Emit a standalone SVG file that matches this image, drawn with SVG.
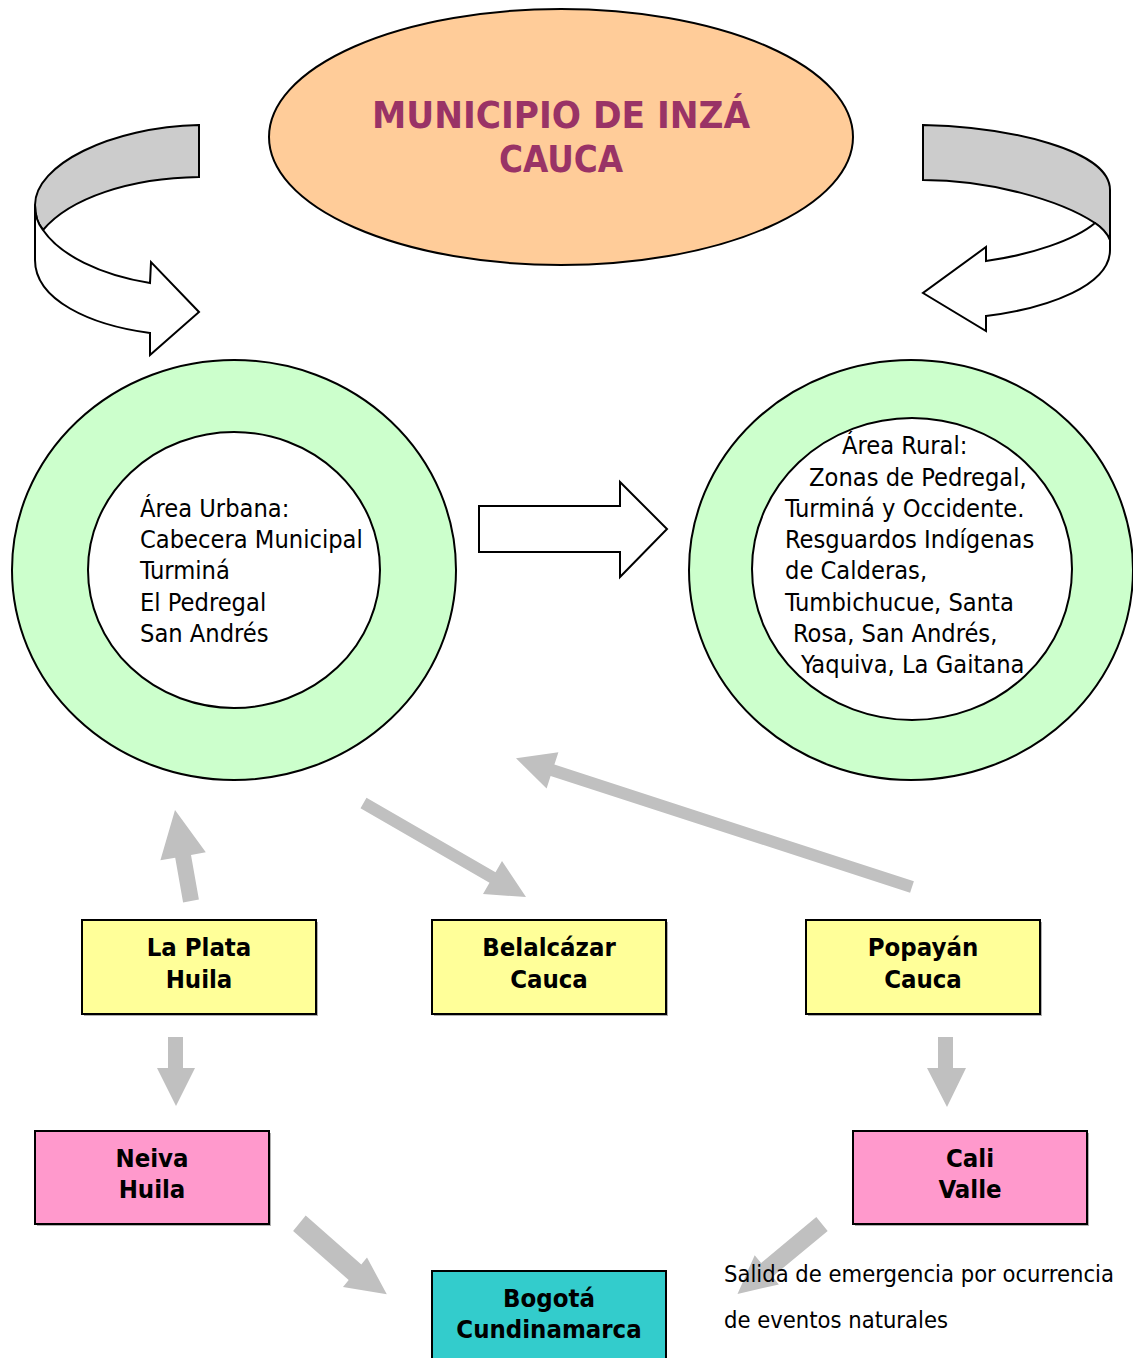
<svg xmlns="http://www.w3.org/2000/svg" width="1133" height="1358" viewBox="0 0 1133 1358">
<style>
.ol{stroke:#000;stroke-width:2;stroke-linejoin:miter}
.reg{font-family:"DejaVu Sans Condensed","DejaVu Sans",sans-serif;font-stretch:condensed;font-size:25.2px;fill:#000}
.bx{font-family:"DejaVu Sans Condensed","DejaVu Sans",sans-serif;font-stretch:condensed;font-weight:bold;font-size:25.5px;fill:#000;text-anchor:middle}
.box{stroke:#000;stroke-width:2}
.sh{fill:#b0b0b0}
.ga{fill:#c0c0c0;stroke:none}
.note{font-family:"DejaVu Sans Condensed","DejaVu Sans",sans-serif;font-stretch:condensed;font-size:23px;fill:#000}
</style>
<rect width="1133" height="1358" fill="#fff"/>

<g id="curved-arrow-left">
<path class="ol" fill="#cccccc" d="M199,125 C110,127 35,165 35,205 C35,215 38,224 43,230 C70,198 130,178 199,177 Z"/>
<path class="ol" fill="#ffffff" d="M35,205 L35,260 C35,300 90,325 150,333 L150,355 L199,312 L151,262 L150,283 C100,275 60,255 43,230 C38,224 35,215 35,205 Z"/>
</g>
<g id="curved-arrow-right">
<path class="ol" fill="#cccccc" d="M923,125 C1010,127 1110,150 1110,190 L1110,240 C1107,233 1101,227 1095,223 C1060,200 990,180 923,180 Z"/>
<path class="ol" fill="#ffffff" d="M1095,223 C1101,227 1107,233 1110,240 L1110,250 C1110,285 1050,308 986,316 L986,331 L923,293 L986,247 L986,261 C1030,255 1075,240 1095,223 Z"/>
</g>

<g id="municipio">
<ellipse class="ol" cx="561" cy="137" rx="292" ry="128" fill="#ffcc99"/>
<text x="561" y="128" font-family="'DejaVu Sans Condensed','DejaVu Sans',sans-serif" font-stretch="condensed" font-weight="bold" font-size="37" fill="#993366" text-anchor="middle" textLength="378" lengthAdjust="spacingAndGlyphs">MUNICIPIO DE INZÁ</text>
<text x="561" y="172" font-family="'DejaVu Sans Condensed','DejaVu Sans',sans-serif" font-stretch="condensed" font-weight="bold" font-size="37" fill="#993366" text-anchor="middle" textLength="124" lengthAdjust="spacingAndGlyphs">CAUCA</text>
</g>

<g id="area-urbana">
<ellipse class="ol" cx="234" cy="570" rx="222" ry="210" fill="#ccffcc"/>
<ellipse class="ol" cx="234" cy="570" rx="146" ry="138" fill="#ffffff"/>
<text class="reg" x="140" y="517">Área Urbana:</text>
<text class="reg" x="140" y="548">Cabecera Municipal</text>
<text class="reg" x="140" y="579">Turminá</text>
<text class="reg" x="140" y="611">El Pedregal</text>
<text class="reg" x="140" y="642">San Andrés</text>
</g>

<g id="area-rural">
<ellipse class="ol" cx="911" cy="570" rx="222" ry="210" fill="#ccffcc"/>
<ellipse class="ol" cx="912" cy="569" rx="160" ry="151" fill="#ffffff"/>
<text class="reg" x="842" y="454">Área Rural:</text>
<text class="reg" x="809" y="486">Zonas de Pedregal,</text>
<text class="reg" x="785" y="517">Turminá y Occidente.</text>
<text class="reg" x="785" y="548">Resguardos Indígenas</text>
<text class="reg" x="785" y="579">de Calderas,</text>
<text class="reg" x="785" y="611">Tumbichucue, Santa</text>
<text class="reg" x="793" y="642">Rosa, San Andrés,</text>
<text class="reg" x="801" y="673">Yaquiva, La Gaitana</text>
</g>

<g id="la-plata">
<rect class="sh" x="84" y="922" width="234" height="94"/>
<rect class="box" x="82" y="920" width="234" height="94" fill="#ffff99"/>
<text class="bx" x="199" y="956">La Plata</text>
<text class="bx" x="199" y="988">Huila</text>
</g>
<g id="belalcazar">
<rect class="sh" x="434" y="922" width="234" height="94"/>
<rect class="box" x="432" y="920" width="234" height="94" fill="#ffff99"/>
<text class="bx" x="549" y="956">Belalcázar</text>
<text class="bx" x="549" y="988">Cauca</text>
</g>
<g id="popayan">
<rect class="sh" x="808" y="922" width="234" height="94"/>
<rect class="box" x="806" y="920" width="234" height="94" fill="#ffff99"/>
<text class="bx" x="923" y="956">Popayán</text>
<text class="bx" x="923" y="988">Cauca</text>
</g>
<g id="neiva">
<rect class="sh" x="37" y="1133" width="234" height="93"/>
<rect class="box" x="35" y="1131" width="234" height="93" fill="#ff99cc"/>
<text class="bx" x="152" y="1167">Neiva</text>
<text class="bx" x="152" y="1198">Huila</text>
</g>
<g id="cali">
<rect class="sh" x="855" y="1133" width="234" height="93"/>
<rect class="box" x="853" y="1131" width="234" height="93" fill="#ff99cc"/>
<text class="bx" x="970" y="1167">Cali</text>
<text class="bx" x="970" y="1198">Valle</text>
</g>
<g id="bogota">
<rect class="box" x="432" y="1271" width="234" height="100" fill="#33cccc"/>
<text class="bx" x="549" y="1307">Bogotá</text>
<text class="bx" x="549" y="1338">Cundinamarca</text>
</g>

<g id="connectors">
<polygon class="ol" fill="#ffffff" points="479,506 620,506 620,482 667,529 620,577 620,552 479,552"/>
<polygon class="ga" points="198.9,899.6 191,854.9 205.8,852.3 175,810 160.4,860.3 175.2,857.7 183.1,902.4"/>
<polygon class="ga" points="360.5,808.2 489.5,882.7 483,894 526,897 502,861 495.5,872.3 366.5,797.8"/>
<polygon class="ga" points="913.9,881.3 554.4,764.6 558.4,752.2 516,758.3 546.6,788.4 550.6,776 910.1,892.7"/>
<polygon class="ga" points="168,1037 183,1037 183,1068 195,1068 176,1106 157,1068 168,1068"/>
<polygon class="ga" points="938,1037 953,1037 953,1068 966,1068 947,1107 927,1068 938,1068"/>
<polygon class="ga" points="293.1,1231.1 348.7,1280 343,1286.9 386.8,1294.3 367,1257.5 361.3,1264.4 305.7,1215.5"/>
<polygon class="ga" points="827.7,1230.9 772.5,1276.7 778.9,1284.4 737.5,1294 754.7,1255.2 761.1,1262.9 816.3,1217.1"/>
</g>

<g id="nota">
<text class="note" x="724" y="1282" textLength="390" lengthAdjust="spacingAndGlyphs">Salida de emergencia por ocurrencia</text>
<text class="note" x="724" y="1328" textLength="224" lengthAdjust="spacingAndGlyphs">de eventos naturales</text>
</g>
</svg>
